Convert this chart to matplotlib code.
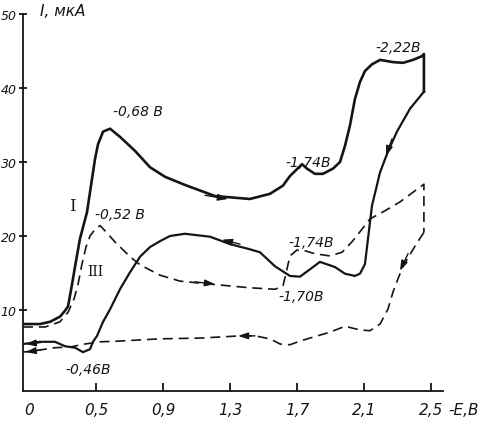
import matplotlib
matplotlib.use("Agg")
import matplotlib.pyplot as plt

# curve I, forward scan (solid)
e1_fwd = [0.064, 0.166, 0.225, 0.285, 0.315, 0.333, 0.357, 0.375, 0.404, 0.446, 0.476, 0.494,
          0.512, 0.542, 0.584, 0.643, 0.733, 0.822, 0.912, 1.031, 1.210, 1.419, 1.539, 1.616,
          1.658, 1.730, 1.760, 1.807, 1.855, 1.915, 1.957, 1.987, 2.016, 2.046, 2.076, 2.106,
          2.148, 2.196, 2.273, 2.333, 2.393, 2.446, 2.458, 2.458]
i1_fwd = [8.1, 8.1, 8.4, 9.1, 9.9, 10.5, 13.5, 15.9, 19.6, 23.2, 27.7, 30.4,
          32.4, 34.1, 34.5, 33.4, 31.5, 29.3, 28.0, 26.9, 25.4, 25.0, 25.7, 26.8,
          28.1, 29.7, 29.1, 28.4, 28.4, 29.1, 30.0, 32.2, 34.9, 38.5, 40.8, 42.3,
          43.2, 43.8, 43.5, 43.4, 43.8, 44.3, 44.6, 39.5]

# curve I, reverse scan (solid)
e1_rev = [2.458, 2.375, 2.297, 2.243, 2.196, 2.148, 2.124, 2.106, 2.076, 2.046, 1.987, 1.927,
          1.837, 1.778, 1.718, 1.658, 1.569, 1.479, 1.419, 1.300, 1.181, 1.031, 0.942, 0.882,
          0.822, 0.763, 0.703, 0.643, 0.584, 0.542, 0.506, 0.482, 0.464, 0.422, 0.375, 0.315,
          0.255, 0.166, 0.064]
i1_rev = [39.5, 37.2, 34.1, 31.4, 28.6, 24.1, 19.6, 16.2, 14.9, 14.6, 14.9, 15.8,
          16.5, 15.5, 14.5, 14.6, 15.9, 17.8, 18.2, 18.9, 19.9, 20.3, 20.0, 19.3,
          18.5, 17.2, 15.1, 12.8, 10.1, 8.4, 6.5, 5.7, 4.7, 4.3, 4.9, 5.1,
          5.7, 5.7, 5.4]

# curve III, forward scan (dashed)
e3_fwd = [0.064, 0.196, 0.285, 0.333, 0.369, 0.393, 0.416, 0.440, 0.464, 0.494, 0.524, 0.554,
          0.613, 0.703, 0.763, 0.882, 1.001, 1.181, 1.419, 1.569, 1.616, 1.640, 1.658, 1.700,
          1.748, 1.807, 1.897, 1.969, 2.028, 2.088, 2.136, 2.225, 2.315, 2.458, 2.458]
i3_fwd = [7.7, 7.7, 8.4, 9.7, 11.5, 13.5, 16.2, 18.5, 20.0, 20.9, 21.4, 20.7,
          19.2, 17.2, 16.1, 14.7, 13.9, 13.5, 13.0, 12.8, 13.2, 15.5, 17.3, 18.1,
          18.0, 17.6, 17.3, 17.8, 19.2, 20.9, 22.3, 23.4, 24.6, 27.0, 20.5]

# curve III, reverse scan (dashed)
e3_rev = [2.458, 2.404, 2.333, 2.303, 2.273, 2.243, 2.196, 2.136, 2.076, 1.987, 1.897, 1.807,
          1.718, 1.658, 1.599, 1.539, 1.449, 1.360, 1.121, 0.882, 0.643, 0.524, 0.434, 0.345,
          0.255, 0.136, 0.064]
i3_rev = [20.5, 18.6, 15.9, 14.2, 12.4, 10.1, 8.1, 7.2, 7.3, 7.8, 7.0, 6.4,
          5.8, 5.3, 5.4, 6.1, 6.5, 6.5, 6.2, 6.1, 5.8, 5.7, 5.4, 5.0,
          4.9, 4.5, 4.3]

xticks = [0.10, 0.5, 0.9, 1.3, 1.7, 2.1, 2.5]
xlabels = ["0", "0,5", "0,9", "1,3", "1,7", "2,1", "2,5"]
yticks = [10, 20, 30, 40, 50]
ylabels = ["10", "20", "30", "40", "50"]

# (text, E, I) peak labels
notes = [("-0,68 В", 0.601, 36.9), ("-1,74В", 1.628, 30.0), ("-2,22В", 2.166, 45.5),
         ("-0,52 В", 0.494, 23.0), ("-0,46В", 0.315, 2.0), ("-1,74В", 1.646, 19.2),
         ("-1,70В", 1.587, 11.9)]

plt.rcParams['font.family'] = ['DejaVu Sans']
fig = plt.figure(figsize=(4.87, 4.27), dpi=100)
ax = fig.add_axes([23/487, 1-392/427, (443-23)/487, (392-15)/427])
ax.set_xlim(0.064, 2.572)
ax.set_ylim(-0.95, 50.0)

ink = "#151515"
ax.plot(e1_fwd, i1_fwd, color=ink, lw=1.9, solid_joinstyle="round")
ax.plot(e1_rev, i1_rev, color=ink, lw=1.6, solid_joinstyle="round")
ax.plot(e3_fwd, i3_fwd, color=ink, lw=1.2, linestyle=(0, (6, 3.5)))
ax.plot(e3_rev, i3_rev, color=ink, lw=1.2, linestyle=(0, (6, 3.5)))

# direction arrows
arrows = [((1.151, 25.5), (1.288, 25.0)), ((2.267, 33.1), (2.231, 30.8)),
          ((1.360, 18.9), (1.252, 19.5)), ((1.091, 13.8), (1.210, 13.5)),
          ((2.363, 17.6), (2.315, 15.3)), ((1.449, 6.5), (1.348, 6.5)),
          ((0.17, 5.6), (0.08, 5.4)), ((0.17, 4.6), (0.08, 4.3))]
for a, b in arrows:
    ax.annotate("", xy=b, xytext=a,
                arrowprops=dict(arrowstyle="-|>,head_length=0.6,head_width=0.2",
                                color=ink, lw=1.0, shrinkA=0, shrinkB=0))

for txt, x, y in notes:
    ax.text(x, y, txt, fontsize=10, fontstyle="italic", ha="left", va="center", color=ink)
ax.text(0.357, 24.1, "I", fontsize=12, family="DejaVu Serif", ha="center", va="center", color=ink)
ax.text(0.494, 15.3, "III", fontsize=10, family="DejaVu Serif", ha="center", va="center",
        color=ink)

for s in ["top", "right"]:
    ax.spines[s].set_visible(False)
for s in ["left", "bottom"]:
    ax.spines[s].set_linewidth(1.3)
    ax.spines[s].set_color(ink)

ax.set_xticks(xticks)
ax.set_xticklabels(xlabels, fontstyle="italic", fontsize=11)
ax.set_yticks(yticks)
ax.set_yticklabels(ylabels, fontstyle="italic", fontsize=9)
ax.tick_params(axis="x", direction="in", length=6, width=1.3, pad=8, colors=ink)
ax.tick_params(axis="y", direction="inout", length=6, width=1.3, pad=1.5, colors=ink)
ax.xaxis.get_major_ticks()[0].tick1line.set_visible(False)

fig.text(40/487, 1-12/427, "I, мкА", fontsize=11, fontstyle="italic", ha="left", va="center", color=ink)
fig.text(448/487, 1-411/427, "-E,В", fontsize=11, fontstyle="italic", ha="left", va="center", color=ink)

fig.savefig("out.png", dpi=100)
